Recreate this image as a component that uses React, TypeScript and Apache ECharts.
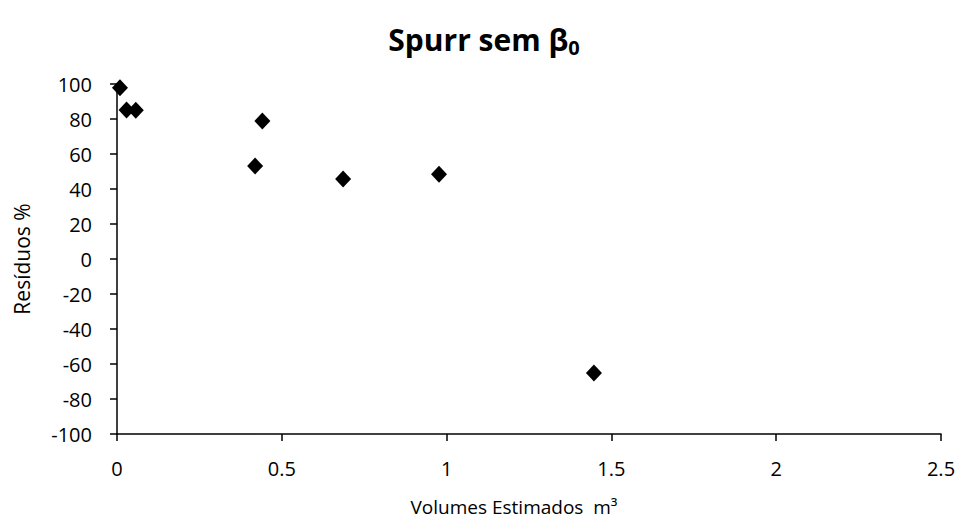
import React, { useEffect, useRef } from "react";
import * as echarts from "echarts";

const xValues = [0.009, 0.029, 0.057, 0.419, 0.441, 0.686, 0.977, 1.447];
const yValues = [97.9, 85.1, 85.0, 53.1, 78.9, 45.7, 48.4, -65.1];
const xTicks = { min: 0, max: 2.5, interval: 0.5 };
const yTicks = { min: -100, max: 100, interval: 20 };

export default function App() {
  const ref = useRef<HTMLDivElement>(null);
  useEffect(() => {
    document.body.style.margin = "0";
    if (!ref.current) return;
    const chart = echarts.init(ref.current, null, { renderer: "svg" });
    const font = "'Open Sans', 'Noto Sans', sans-serif";
    chart.setOption({
      animation: false,
      backgroundColor: "#ffffff",
      title: {
        text: "{t|Spurr sem β}{s|0}",
        left: 479,
        top: 16,
        textAlign: "center",
        textStyle: {
          rich: {
            t: { fontFamily: font, fontWeight: "bold", fontSize: 30, color: "#000" },
            s: { fontFamily: font, fontWeight: "bold", fontSize: 20, color: "#000", padding: [16, 0, 0, 0] },
          },
        },
      },
      grid: { left: 117, right: 27, top: 84, bottom: 90, containLabel: false },
      xAxis: {
        type: "value",
        min: xTicks.min,
        max: xTicks.max,
        interval: xTicks.interval,
        name: "Volumes Estimados  m³",
        nameLocation: "middle",
        nameGap: 63,
        nameTextStyle: { fontFamily: font, fontSize: 19, color: "#000", padding: [0, 30, 0, 0] },
        axisLine: { show: true, onZero: false, lineStyle: { color: "#000", width: 1.5 } },
        axisTick: { show: true, length: 7, lineStyle: { color: "#000", width: 1.5 } },
        axisLabel: { fontFamily: font, fontSize: 20, color: "#000", margin: 24 },
        splitLine: { show: false },
      },
      yAxis: {
        type: "value",
        min: yTicks.min,
        max: yTicks.max,
        interval: yTicks.interval,
        name: "Resíduos %",
        nameLocation: "middle",
        nameGap: 85,
        nameTextStyle: { fontFamily: font, fontSize: 21, color: "#000" },
        axisLine: { show: true, onZero: false, lineStyle: { color: "#000", width: 1.5 } },
        axisTick: { show: true, length: 7, lineStyle: { color: "#000", width: 1.5 } },
        axisLabel: { fontFamily: font, fontSize: 20, color: "#000", margin: 25 },
        splitLine: { show: false },
      },
      series: [
        {
          type: "scatter",
          symbol: "diamond",
          symbolSize: [16, 17],
          itemStyle: { color: "#000", opacity: 1 },
          data: xValues.map((x, i) => [x, yValues[i]]),
        },
      ],
    });
    return () => chart.dispose();
  }, []);
  return <div ref={ref} style={{ width: 968, height: 524 }} />;
}
